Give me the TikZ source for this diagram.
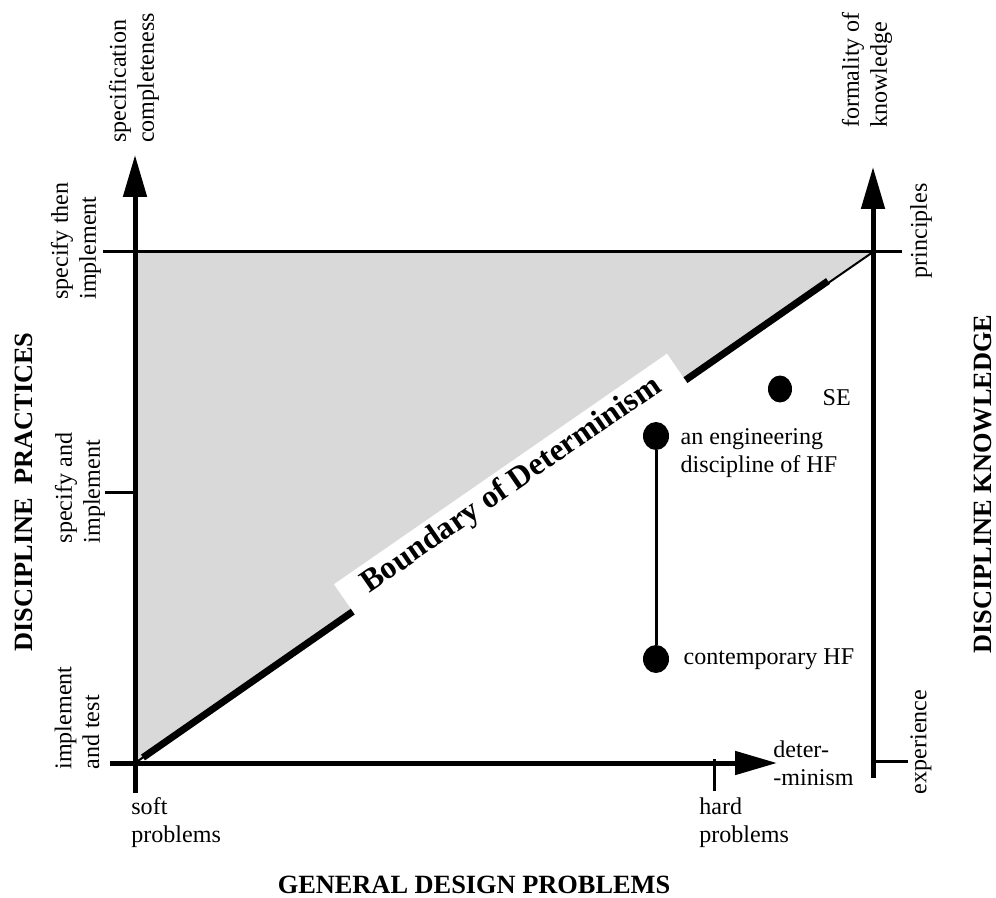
\documentclass[tikz,border=0pt]{standalone}
\usepackage{fontspec}
\setmainfont{Liberation Serif}
\usetikzlibrary{arrows.meta,positioning,shapes.geometric}

\begin{document}
\begin{tikzpicture}[
    x=0.02cm, y=-0.02cm,
    axis/.style={line width=0.1cm},
    tip/.style={-{Triangle[length=0.84cm,width=0.46cm]}},
    tick/.style={line width=0.06cm},
    lbl/.style={inner sep=0pt, font=\fontsize{13.7}{15.9}\selectfont},
    vlbl/.style={lbl, rotate=90, align=left},
    title/.style={inner sep=0pt, font=\fontsize{15}{18}\selectfont\bfseries},
    bnd/.style={fill=white, inner xsep=0.48cm, inner ysep=0.1cm, font=\fontsize{18.2}{20}\selectfont\bfseries},
    dot/.style={ellipse, fill, inner sep=0pt, minimum width=0.52cm, minimum height=0.56cm},
    link/.style={line width=0.06cm}
  ]
    \useasboundingbox (0,0) rectangle (996,898);
    % corners of the shaded region
    \coordinate (O) at (135,763);
    \coordinate (TL) at (135,252);
    \coordinate (TR) at (873,252);
    \fill[black!15] (O) -- (TL) -- (TR) -- cycle;
    \draw[line width=0.04cm] (O) -- (TR);
    \coordinate (b1) at (143,757.5);
    \coordinate (b2) at (828,281);
    \draw[line width=0.14cm] (b1) -- (b2);
    \node[bnd, rotate=34.7] (bnd) at (511.7,485.2) {Boundary of Determinism};
    % ticks
    \draw[tick] (103,252) -- (902,252);
    \draw[tick] (105,492) -- (135,492);
    \draw[tick] (873,761) -- (908,761);
    \draw[tick] (714,759) -- (714,791);
    % axes
    \coordinate (pbot) at (135,793);
    \coordinate (ptop) at (135,155);
    \coordinate (dleft) at (110,763);
    \coordinate (dright) at (777,763);
    \coordinate (kbot) at (873,778);
    \coordinate (ktop) at (873,167);
    \draw[axis, tip] (pbot) -- (ptop);
    \draw[axis, tip] (dleft) -- (dright);
    \draw[axis, tip] (kbot) -- (ktop);
    % left labels
    \node[vlbl] (spec) at (134,78) {specification\\completeness};
    \node[vlbl] (sti) at (76,241) {specify then\\implement};
    \node[vlbl] (sai) at (80,488) {specify and\\implement};
    \node[vlbl] (iat) at (77,718) {implement\\and test};
    \node[title, rotate=90] (dp) at (24,492) {DISCIPLINE\ \ PRACTICES};
    % right labels
    \node[vlbl] (fok) at (867,70) {formality of\\knowledge};
    \node[vlbl] (pri) at (921,231) {principles};
    \node[vlbl] (exper) at (921,742) {experience};
    \node[title, rotate=90] (dk) at (983,484) {DISCIPLINE KNOWLEDGE};
    % bottom labels
    \node[lbl, align=left, anchor=west] (soft) at (131,823) {soft\\problems};
    \node[lbl, align=left, anchor=west] (hard) at (699,823) {hard\\problems};
    \node[lbl, align=left, anchor=west] (det) at (773,763) {deter-\\-minism};
    \node[title] (gdp) at (474,885) {GENERAL DESIGN PROBLEMS};
    % disciplines
    \node[dot, minimum width=0.48cm, minimum height=0.54cm] (se) at (780,389) {};
    \node[dot] (eng) at (656,436) {};
    \node[dot] (cont) at (656,659) {};
    \draw[link] (eng) -- (cont);
    \node[lbl, right=0.6cm of se, yshift=-0.18cm] (selbl) {SE};
    \node[lbl, align=left, right=0.22cm of eng, yshift=-0.35cm] (englbl) {an engineering\\discipline of HF};
    \node[lbl, right=0.28cm of cont] (contlbl) {contemporary HF};
  \end{tikzpicture}
\end{document}
